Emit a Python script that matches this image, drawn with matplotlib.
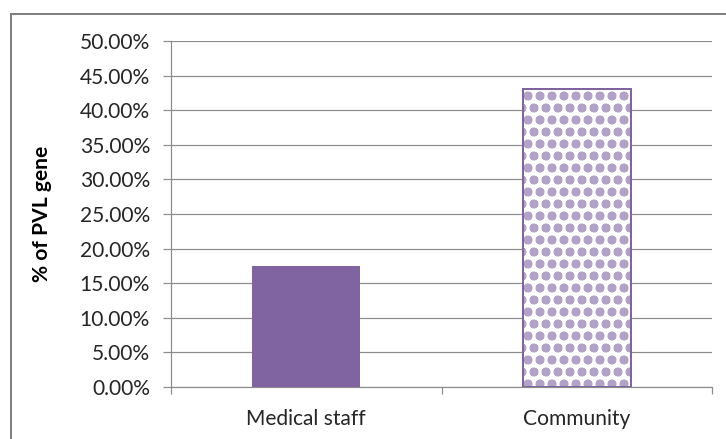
import matplotlib
matplotlib.use("Agg")
import matplotlib.pyplot as plt
from matplotlib.patches import Rectangle
from matplotlib.ticker import PercentFormatter, FixedLocator

groups = ["Medical staff", "Community"]
pvl_pct = [17.5, 43.0]
y_ticks = [0, 5, 10, 15, 20, 25, 30, 35, 40, 45, 50]

solid_color = "#8064A2"
dot_color = "#B3A2C7"
grey = "#8C8C8C"

plt.rcParams.update({
    "font.family": ["Lato", "DejaVu Sans"],
    "font.size": 21,
    "hatch.linewidth": 4.0,
})

# dpi 72 so the hatch cell (72 px) gives a dot spacing close to the original
fig = plt.figure(figsize=(726 / 72, 439 / 72), dpi=72)
ax = fig.add_axes([171 / 726, 1 - 387 / 439, (712 - 171) / 726, (387 - 41) / 439])

x = range(len(groups))
ax.bar(x[0], pvl_pct[0], width=0.4, color=solid_color, zorder=3)
# filled dots + small rings on the same grid -> bigger solid dots
ax.bar(x[1], pvl_pct[1], width=0.4, color="white", edgecolor=dot_color,
       linewidth=0, hatch=".o", zorder=3)
ax.bar(x[1], pvl_pct[1], width=0.4, fill=False, edgecolor=solid_color,
       linewidth=2, zorder=4)

ax.set_xlim(-0.5, 1.5)
ax.set_ylim(0, 50)
ax.set_yticks(y_ticks)
ax.yaxis.set_major_formatter(PercentFormatter(decimals=2))
ax.grid(True, axis="y", color=grey, linewidth=1.2, zorder=0)

ax.set_xticks(list(x))
ax.set_xticklabels(groups)
ax.xaxis.set_minor_locator(FixedLocator([-0.5, 0.5, 1.5]))
ax.tick_params(axis="x", which="major", length=0, pad=22, colors="#262626")
ax.tick_params(axis="x", which="minor", length=7, color=grey, width=1.2)
ax.tick_params(axis="y", length=8, color=grey, width=1.2, pad=13,
               labelcolor="#262626")

for side in ("top", "right"):
    ax.spines[side].set_visible(False)
for side in ("left", "bottom"):
    ax.spines[side].set_color(grey)
    ax.spines[side].set_linewidth(1.2)

ax.set_ylabel("% of PVL gene", fontweight="bold", fontsize=21)
ax.yaxis.set_label_coords(-129 / 541, 0.5)
ax.yaxis.label.set_verticalalignment("center")

# outer chart-area border (only top/left visible in the crop)
fig.add_artist(Rectangle((11 / 726, -0.1), 1.2, 1 - 14 / 439 + 0.1,
                         transform=fig.transFigure, fill=False,
                         edgecolor="#7F7F7F", linewidth=2))

fig.savefig("out.png", dpi=72)
